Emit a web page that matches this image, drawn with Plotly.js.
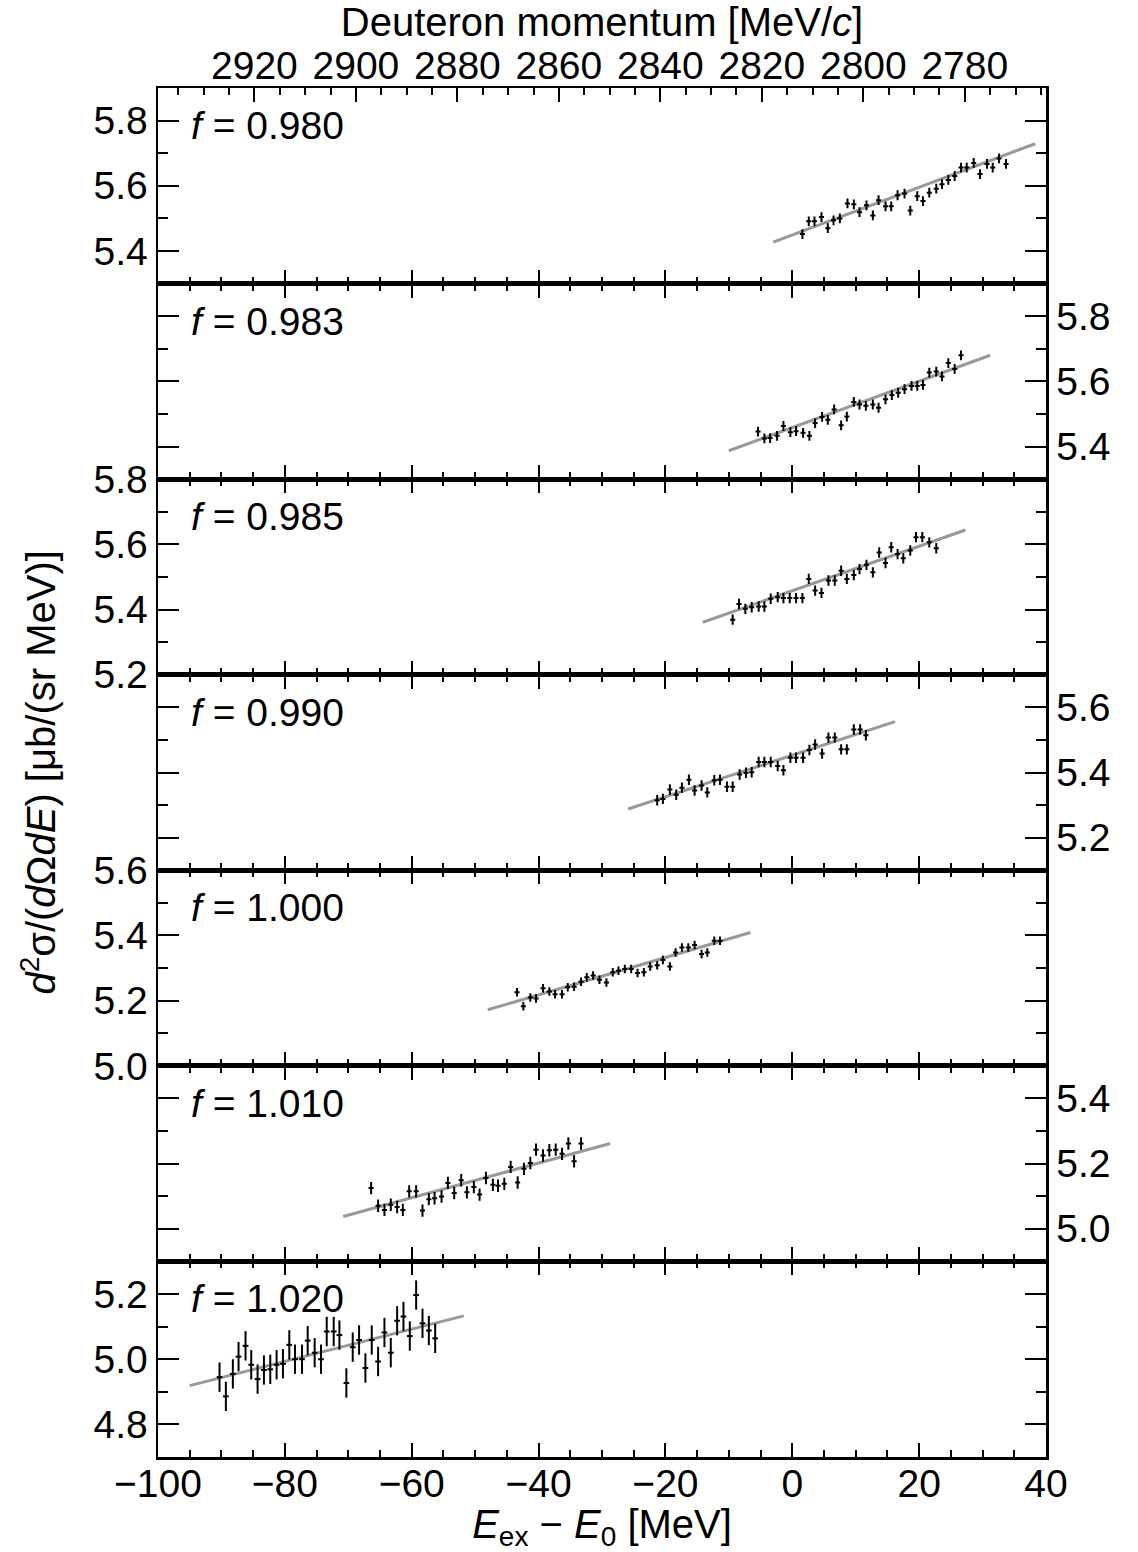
<!DOCTYPE html>
<html>
<head>
<meta charset="utf-8">
<script src="https://cdn.plot.ly/plotly-3.0.1.min.js"></script>
<style>html,body{margin:0;padding:0;background:#fff;}#chart{width:1138px;height:1552px;}</style>
</head>
<body>
<div id="chart"></div>
<script>
// ---- data ----
const fLabels = ["0.980", "0.983", "0.985", "0.990", "1.000", "1.010", "1.020"];

const e1 = [1.6,2.6,3.5,4.6,5.6,6.5,7.5,8.7,9.7,10.6,11.7,12.7,13.6,14.7,15.6,16.6,17.7,18.6,19.7,20.6,21.6,22.7,23.6,24.6,25.6,26.6,27.5,28.6,29.6,30.7,31.6,32.6,33.7];
const s1 = [5.452,5.491,5.491,5.504,5.470,5.494,5.500,5.546,5.543,5.519,5.540,5.509,5.556,5.537,5.537,5.571,5.576,5.524,5.568,5.553,5.579,5.591,5.605,5.618,5.630,5.656,5.656,5.670,5.636,5.667,5.656,5.684,5.667];

const e2 = [-5.4,-4.4,-3.5,-2.4,-1.4,-0.3,0.6,1.7,2.7,3.6,4.7,5.6,6.6,7.7,8.6,9.7,10.6,11.6,12.7,13.6,14.7,15.7,16.7,17.7,18.8,19.7,20.6,21.6,22.7,23.6,24.6,25.6,26.6];
const s2 = [5.446,5.425,5.426,5.433,5.463,5.444,5.447,5.442,5.433,5.472,5.491,5.482,5.514,5.465,5.492,5.537,5.529,5.525,5.529,5.519,5.545,5.558,5.565,5.576,5.586,5.586,5.589,5.627,5.630,5.615,5.656,5.638,5.680];

const e3 = [-9.4,-8.4,-7.4,-6.4,-5.3,-4.4,-3.4,-2.3,-1.4,-0.4,0.6,1.6,2.6,3.6,4.6,5.7,6.7,7.7,8.6,9.7,10.6,11.7,12.7,13.7,14.7,15.6,16.6,17.5,18.6,19.5,20.5,21.6,22.7];
const s3 = [5.369,5.417,5.402,5.407,5.409,5.409,5.433,5.438,5.435,5.435,5.435,5.435,5.494,5.458,5.451,5.489,5.489,5.519,5.494,5.506,5.524,5.537,5.514,5.575,5.543,5.591,5.570,5.557,5.581,5.622,5.622,5.606,5.588];

const e4 = [-21.3,-20.4,-19.3,-18.3,-17.4,-16.3,-15.4,-14.3,-13.4,-12.3,-11.4,-10.3,-9.4,-8.3,-7.3,-6.4,-5.3,-4.4,-3.4,-2.3,-1.4,-0.3,0.6,1.7,2.7,3.6,4.7,5.7,6.7,7.7,8.6,9.7,10.7,11.6];
const s4 = [5.315,5.319,5.348,5.332,5.353,5.378,5.345,5.360,5.339,5.376,5.378,5.356,5.356,5.394,5.399,5.401,5.432,5.432,5.432,5.420,5.407,5.445,5.445,5.445,5.469,5.486,5.458,5.507,5.507,5.471,5.471,5.532,5.532,5.514];

const e5 = [-43.4,-42.4,-41.3,-40.4,-39.3,-38.3,-37.4,-36.3,-35.4,-34.4,-33.3,-32.4,-31.4,-30.4,-29.3,-28.3,-27.4,-26.4,-25.4,-24.4,-23.4,-22.4,-21.3,-20.4,-19.3,-18.4,-17.4,-16.4,-15.4,-14.3,-13.4,-12.3,-11.4];
const s5 = [5.226,5.183,5.210,5.207,5.238,5.228,5.220,5.220,5.241,5.243,5.258,5.272,5.277,5.264,5.256,5.287,5.292,5.297,5.297,5.285,5.287,5.305,5.309,5.325,5.305,5.348,5.363,5.363,5.371,5.343,5.348,5.384,5.384];

const e6 = [-66.4,-65.3,-64.3,-63.3,-62.3,-61.4,-60.4,-59.3,-58.3,-57.3,-56.4,-55.3,-54.3,-53.3,-52.2,-51.3,-50.2,-49.3,-48.3,-47.2,-46.4,-45.4,-44.4,-43.3,-42.3,-41.3,-40.4,-39.3,-38.3,-37.3,-36.3,-35.3,-34.4,-33.3];
const s6 = [5.125,5.071,5.058,5.074,5.067,5.058,5.115,5.115,5.056,5.091,5.094,5.099,5.141,5.110,5.149,5.112,5.128,5.105,5.156,5.135,5.132,5.138,5.190,5.142,5.184,5.202,5.243,5.225,5.241,5.243,5.230,5.262,5.207,5.262];

const e7 = [-90.3,-89.3,-88.2,-87.3,-86.2,-85.3,-84.3,-83.3,-82.3,-81.3,-80.3,-79.3,-78.4,-77.3,-76.4,-75.3,-74.3,-73.4,-72.3,-71.4,-70.3,-69.3,-68.3,-67.3,-66.3,-65.3,-64.3,-63.3,-62.3,-61.3,-60.3,-59.3,-58.3,-57.3,-56.3];
const s7 = [4.945,4.886,4.955,5.008,5.041,4.983,4.939,4.967,4.969,4.983,4.986,5.044,5.000,5.000,5.057,5.020,5.000,5.085,5.085,5.074,4.927,5.037,5.059,4.973,5.059,4.993,5.082,5.020,5.118,5.131,5.071,5.197,5.110,5.088,5.064];

// fitted lines (end points)
const fitX = [[-3.0,38.3],[-10.0,31.2],[-14.1,27.3],[-25.9,16.2],[-48.0,-6.6],[-70.8,-28.7],[-95.0,-51.8]];
const fitY = [[5.427,5.729],[5.387,5.680],[5.361,5.644],[5.288,5.556],[5.172,5.409],[5.038,5.262],[4.919,5.133]];

// uncertainties per panel
const yErr = [0.015,0.015,0.016,0.016,0.013,0.019,0.045];
const xErr = [0.4,0.4,0.4,0.4,0.4,0.4,0.45];

// axis ranges
const xRange = [-100, 40];
const momentumRange = [2939, 2764];
const yRanges = [[5.3,5.9],[5.3,5.9],[5.2,5.8],[5.1,5.7],[5.0,5.6],[4.9,5.5],[4.7,5.3]];

const energies = [e1,e2,e3,e4,e5,e6,e7];
const sigmas = [s1,s2,s3,s4,s5,s6,s7];

// ---- build ----
const FONT = "Liberation Sans, Arial, Helvetica, sans-serif";
const TICK = 39, TITLE = 40, LABEL = 39;
const N = 7;
const traces = [];
const layout = {
  width: 1138, height: 1552,
  margin: {l: 158, r: 92, t: 88, b: 95},
  paper_bgcolor: "#fff", plot_bgcolor: "#fff",
  showlegend: false,
  font: {family: FONT, size: TICK, color: "#000"},
  annotations: []
};

for (let i = 0; i < N; i++) {
  const k = i + 1;
  const xa = k === 1 ? "x" : "x" + k;
  const ya = k === 1 ? "y" : "y" + k;
  const xName = k === 1 ? "xaxis" : "xaxis" + k;
  const yName = k === 1 ? "yaxis" : "yaxis" + k;

  traces.push({
    x: fitX[i], y: fitY[i], xaxis: xa, yaxis: ya,
    mode: "lines", line: {color: "#999999", width: 3}, hoverinfo: "skip"
  });
  traces.push({
    x: energies[i], y: sigmas[i], xaxis: xa, yaxis: ya,
    mode: "markers", marker: {size: 1, color: "#000"},
    error_y: {type: "constant", value: yErr[i], color: "#000", thickness: 2, width: 0},
    error_x: {type: "constant", value: xErr[i], color: "#000", thickness: 2, width: 0}
  });

  const d0 = (N - k) / N, d1 = (N - k + 1) / N;
  layout[yName] = {
    domain: [d0, d1], anchor: xa, range: yRanges[i],
    side: (k % 2 === 0) ? "right" : "left",
    showline: true, linecolor: "#000", linewidth: 2.5, mirror: "ticks",
    ticks: "inside", ticklen: 21, tickwidth: 2, tickcolor: "#000",
    dtick: 0.2, tick0: 0, tickformat: ".1f",
    minor: {dtick: 0.1, tick0: 0, ticks: "inside", ticklen: 10, tickwidth: 2, tickcolor: "#000", showgrid: false},
    showgrid: false, zeroline: false,
    tickfont: {family: FONT, size: TICK, color: "#000"}
  };
  layout[xName] = {
    domain: [0, 1], anchor: ya, range: xRange,
    showline: true, linecolor: "#000", linewidth: 2.5,
    mirror: k === 1 ? false : "ticks",
    ticks: "inside", ticklen: 14, tickwidth: 2, tickcolor: "#000",
    dtick: 20, tick0: 0,
    minor: {dtick: 5, tick0: 0, ticks: "inside", ticklen: 7, tickwidth: 2, tickcolor: "#000", showgrid: false},
    showgrid: false, zeroline: false,
    showticklabels: k === N,
    ticklabelstandoff: -9,
    tickfont: {family: FONT, size: TICK, color: "#000"}
  };
  if (k > 1) layout[xName].matches = "x";

  layout.annotations.push({
    text: "<i>f</i> = " + fLabels[i],
    xref: xa + " domain", yref: ya + " domain",
    x: 0.035, y: 1, xanchor: "left", yanchor: "top", yshift: -14,
    showarrow: false, font: {family: FONT, size: LABEL, color: "#000"}
  });
}

layout.xaxis7.title = {text: "<i>E</i><sub>ex</sub> \u2212 <i>E</i><sub>0</sub> [MeV]", font: {family: FONT, size: TITLE, color: "#000"}, standoff: 10};

// top momentum axis
traces.push({x: [], y: [], xaxis: "x8", yaxis: "y", mode: "markers", hoverinfo: "skip"});
layout.xaxis8 = {
  overlaying: "x", anchor: "y", side: "top", range: momentumRange,
  showline: true, linecolor: "#000", linewidth: 2.5,
  ticks: "inside", ticklen: 14, tickwidth: 2, tickcolor: "#000",
  dtick: 20, tick0: 0,
  minor: {dtick: 5, tick0: 0, ticks: "inside", ticklen: 7, tickwidth: 2, tickcolor: "#000", showgrid: false},
  showgrid: false, zeroline: false,
  ticklabelstandoff: -9,
  tickfont: {family: FONT, size: TICK, color: "#000"},
  title: {text: "Deuteron momentum [MeV/<i>c</i>]", font: {family: FONT, size: TITLE, color: "#000"}, standoff: 10}
};

// y title
layout.annotations.push({
  text: "<i>d</i><sup>2</sup>\u03c3/(<i>d</i>\u03a9<i>dE</i>) [\u03bcb/(sr MeV)]",
  xref: "paper", yref: "paper", x: -0.135, y: 0.5, xanchor: "center", yanchor: "middle",
  textangle: -90, showarrow: false, font: {family: FONT, size: TITLE, color: "#000"}
});

Plotly.newPlot("chart", traces, layout, {staticPlot: true, displayModeBar: false});
</script>
</body>
</html>
